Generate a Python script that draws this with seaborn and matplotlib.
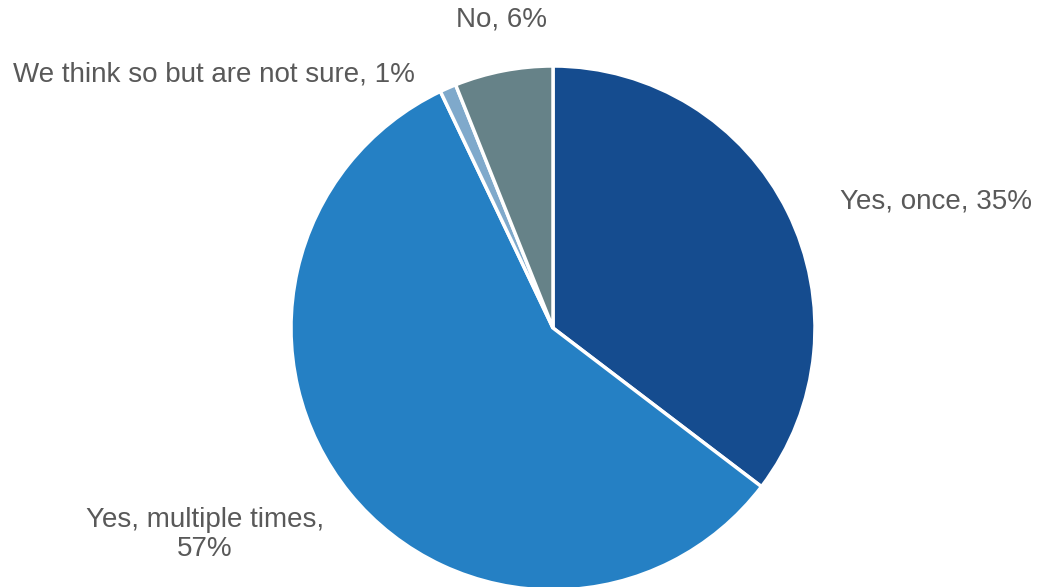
import matplotlib
matplotlib.use("Agg")
import matplotlib.pyplot as plt
import seaborn as sns

categories = ["Yes, once", "Yes, multiple times", "We think so but are not sure", "No"]
shares = [35, 57, 1, 6]
label_texts = ["Yes, once, 35%", "Yes, multiple times,\n57%", "We think so but are not sure, 1%", "No, 6%"]
colors = ["#154c8f", "#2580c4", "#7fa9cb", "#668288"]

sns.set_theme(style="white")
plt.rcParams["font.family"] = ["Liberation Sans", "DejaVu Sans"]

fig = plt.figure(figsize=(10.38, 5.87), dpi=100)
# pie centre at (553, 328) px, radius 262 px
ax = fig.add_axes([(553 - 262) / 1038, (259 - 262) / 587, 524 / 1038, 524 / 587])
wedges, _ = ax.pie(shares, colors=colors, startangle=90, counterclock=False,
                   wedgeprops=dict(edgecolor="white", linewidth=2.5))
for w in wedges:
    w.set_clip_on(False)
ax.set_xlim(-1, 1)
ax.set_ylim(-1, 1)
ax.set_aspect("equal")
ax.axis("off")

# label positions in data units (radius = 1)
label_pos = [(1.095, 0.481, "left"), (-1.328, -0.79, "center"),
             (-0.527, 0.966, "right"), (-0.195, 1.176, "center")]
for txt, (x, y, ha) in zip(label_texts, label_pos):
    ax.text(x, y, txt, ha=ha, va="center", fontsize=20, color="#595959",
            linespacing=1.15, clip_on=False)

fig.savefig("out.png", dpi=100)
